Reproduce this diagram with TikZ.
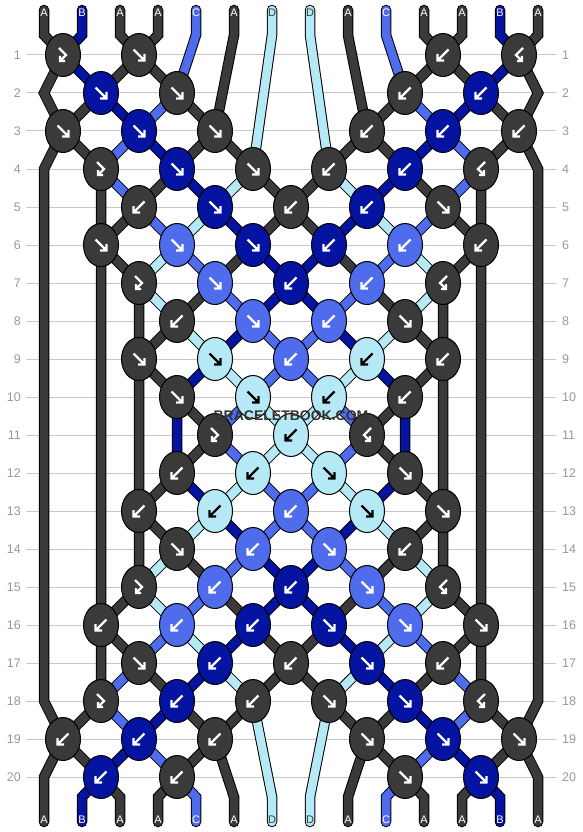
\documentclass[tikz,border=0pt]{standalone}
\usepackage{fontspec}
\setmainfont{Liberation Sans}
\usetikzlibrary{shapes,backgrounds}

\definecolor{kdk}{HTML}{3A3A3A}
\definecolor{knv}{HTML}{0414A0}
\definecolor{kbl}{HTML}{4E6CEB}
\definecolor{klb}{HTML}{B5E9F5}
\colorlet{gdk}{white}
\colorlet{gnv}{white}
\colorlet{gbl}{white}
\colorlet{glb}{black}

\tikzset{
  knot/.style={ellipse, draw=black, line width=1pt, minimum width=35pt, minimum height=43pt, inner sep=0pt},
  glyph/.style={line width=2.4pt, line cap=butt, line join=miter},
  strand/.style={draw=black, line width=1pt, double distance=8.5pt, line cap=round},
  gridline/.style={draw=black!22, line width=1pt},
  rowno/.style={text=black!40, inner sep=0pt, font=\fontsize{12.5}{14}\selectfont},
  tag/.style={inner sep=0pt, font=\fontsize{11}{12}\selectfont},
  wmark/.style={font=\bfseries\fontsize{14}{16}\selectfont, inner sep=0pt}
}

% arrow glyphs inside the knots
\newcommand\arrf{(-5.5,-5.5) -- (5.5,5.5) (5.5,-1) -- (5.5,5.5) -- (-1,5.5)}
\newcommand\arrb{(5.5,-5.5) -- (-5.5,5.5) (-5.5,-1) -- (-5.5,5.5) -- (1,5.5)}
\newcommand\arrfb{(-4,-7) -- (3,0) -- (-3,6) (-3,1) -- (-3,6) -- (2,6)}
\newcommand\arrbf{(4,-7) -- (-3,0) -- (3,6) (3,1) -- (3,6) -- (-2,6)}
% one strand through its knots
\newcommand\strand[3]{\draw[strand, double=#1] (#2) foreach \pp in {#3} {-- (\pp.center)};}

\begin{document}
\begin{tikzpicture}[x=1pt, y=-1pt]
\useasboundingbox (0,0) rectangle (582,832);

% ends of the strands
\foreach \i in {0,...,13} {
  \coordinate (top\i) at ({44+38*\i},10);
  \coordinate (tb\i) at ({44+38*\i},35);
  \coordinate (bb\i) at ({44+38*\i},797);
  \coordinate (bot\i) at ({44+38*\i},822);
}
\foreach \r in {2,4,18,20} {
  \coordinate (el\r) at (44,{17+38*\r});
  \coordinate (er\r) at (538,{17+38*\r});
}

% knots: row/column/colour/type
\foreach \r/\j/\c/\t in {1/1/dk/fb, 1/3/dk/f, 1/11/dk/b, 1/13/dk/bf,
  2/2/nv/f, 2/4/dk/f, 2/10/dk/b, 2/12/nv/b,
  3/1/dk/f, 3/3/nv/f, 3/5/dk/f, 3/9/dk/b, 3/11/nv/b, 3/13/dk/b,
  4/2/dk/fb, 4/4/nv/f, 4/6/dk/f, 4/8/dk/b, 4/10/nv/b, 4/12/dk/bf,
  5/3/dk/b, 5/5/nv/f, 5/7/dk/b, 5/9/nv/b, 5/11/dk/f,
  6/2/dk/f, 6/4/bl/f, 6/6/nv/f, 6/8/nv/b, 6/10/bl/b, 6/12/dk/b,
  7/3/dk/fb, 7/5/bl/f, 7/7/nv/b, 7/9/bl/b, 7/11/dk/bf,
  8/4/dk/b, 8/6/bl/f, 8/8/bl/b, 8/10/dk/f,
  9/3/dk/f, 9/5/lb/f, 9/7/bl/b, 9/9/lb/b, 9/11/dk/b,
  10/4/dk/f, 10/6/lb/f, 10/8/lb/b, 10/10/dk/b,
  11/5/dk/fb, 11/7/lb/b, 11/9/dk/bf,
  12/4/dk/b, 12/6/lb/b, 12/8/lb/f, 12/10/dk/f,
  13/3/dk/b, 13/5/lb/b, 13/7/bl/b, 13/9/lb/f, 13/11/dk/f,
  14/4/dk/f, 14/6/bl/b, 14/8/bl/f, 14/10/dk/b,
  15/3/dk/fb, 15/5/bl/b, 15/7/nv/b, 15/9/bl/f, 15/11/dk/bf,
  16/2/dk/b, 16/4/bl/b, 16/6/nv/b, 16/8/nv/f, 16/10/bl/f, 16/12/dk/f,
  17/3/dk/f, 17/5/nv/b, 17/7/dk/b, 17/9/nv/f, 17/11/dk/b,
  18/2/dk/fb, 18/4/nv/b, 18/6/dk/b, 18/8/dk/f, 18/10/nv/f, 18/12/dk/bf,
  19/1/dk/b, 19/3/nv/b, 19/5/dk/b, 19/9/dk/f, 19/11/nv/f, 19/13/dk/f,
  20/2/nv/b, 20/4/dk/b, 20/10/dk/f, 20/12/nv/f} {
  \node[knot, fill=k\c] (k\r-\j) at ({25+38*\j},{17+38*\r}) {};
  \draw[glyph, draw=g\c, shift={(k\r-\j)}] \csname arr\t\endcsname;
}

% row numbers
\foreach \r in {1,...,20} {
  \node[rowno, anchor=east] (ln\r) at (21,{17+38*\r}) {\r};
  \node[rowno, anchor=west] (rn\r) at (562,{17+38*\r}) {\r};
}

% strand letters
\foreach \i/\s/\tc in {0/A/white, 1/B/white, 2/A/white, 3/A/white, 4/C/white, 5/A/white, 6/D/kdk,
  7/D/kdk, 8/A/white, 9/C/white, 10/A/white, 11/A/white, 12/B/white, 13/A/white} {
  \node[tag, text=\tc] (ta\i) at ({44+38*\i},13) {\s};
  \node[tag, text=\tc] (ba\i) at ({44+38*\i},820) {\s};
}

% watermark
\node[wmark, text=black!80] (wm) at (291,416) {BRACELETBOOK.COM};

\begin{scope}[on background layer]
  \fill[white] (0,0) rectangle (582,832);
  \foreach \r in {1,...,20}
    \draw[gridline] ([xshift=5pt]ln\r.east) -- ([xshift=-6pt]rn\r.west);
  \strand{kdk}{top0}{tb0,k1-1,el2,k3-1,k4-2,k6-2,k7-3,k9-3,k10-4,k11-5,k12-4,k13-3,k15-3,k16-2,k18-2,k19-1,el20,bb0,bot0}
  \strand{knv}{top1}{tb1,k1-1,k2-2,k3-3,k4-4,k5-5,k6-6,k7-7,k8-8,k9-9,k10-10,k12-10,k13-9,k14-8,k15-7,k16-6,k17-5,k18-4,k19-3,k20-2,bb1,bot1}
  \strand{kdk}{top2}{tb2,k1-3,k2-4,k3-5,k4-6,k5-7,k6-8,k7-9,k8-10,k9-11,k13-11,k14-10,k15-9,k16-8,k17-7,k18-6,k19-5,k20-4,bb3,bot3}
  \strand{kdk}{top3}{tb3,k1-3,k2-2,k3-1,el4,el18,k19-1,k20-2,bb2,bot2}
  \strand{kbl}{top4}{tb4,k2-4,k3-3,k4-2,k5-3,k6-4,k7-5,k8-6,k9-7,k10-8,k11-9,k12-8,k13-7,k14-6,k15-5,k16-4,k17-3,k18-2,k19-3,k20-4,bb4,bot4}
  \strand{kdk}{top5}{tb5,k3-5,k4-4,k5-3,k6-2,k16-2,k17-3,k18-4,k19-5,bb5,bot5}
  \strand{klb}{top6}{tb6,k4-6,k5-5,k6-4,k7-3,k8-4,k9-5,k10-6,k11-7,k12-8,k13-9,k14-10,k15-11,k16-10,k17-9,k18-8,bb7,bot7}
  \strand{klb}{top7}{tb7,k4-8,k5-9,k6-10,k7-11,k8-10,k9-9,k10-8,k11-7,k12-6,k13-5,k14-4,k15-3,k16-4,k17-5,k18-6,bb6,bot6}
  \strand{kdk}{top8}{tb8,k3-9,k4-10,k5-11,k6-12,k16-12,k17-11,k18-10,k19-9,bb8,bot8}
  \strand{kbl}{top9}{tb9,k2-10,k3-11,k4-12,k5-11,k6-10,k7-9,k8-8,k9-7,k10-6,k11-5,k12-6,k13-7,k14-8,k15-9,k16-10,k17-11,k18-12,k19-11,k20-10,bb9,bot9}
  \strand{kdk}{top10}{tb10,k1-11,k2-12,k3-13,er4,er18,k19-13,k20-12,bb11,bot11}
  \strand{kdk}{top11}{tb11,k1-11,k2-10,k3-9,k4-8,k5-7,k6-6,k7-5,k8-4,k9-3,k13-3,k14-4,k15-5,k16-6,k17-7,k18-8,k19-9,k20-10,bb10,bot10}
  \strand{knv}{top12}{tb12,k1-13,k2-12,k3-11,k4-10,k5-9,k6-8,k7-7,k8-6,k9-5,k10-4,k12-4,k13-5,k14-6,k15-7,k16-8,k17-9,k18-10,k19-11,k20-12,bb12,bot12}
  \strand{kdk}{top13}{tb13,k1-13,er2,k3-13,k4-12,k6-12,k7-11,k9-11,k10-10,k11-9,k12-10,k13-11,k15-11,k16-12,k18-12,k19-13,er20,bb13,bot13}
\end{scope}
\end{tikzpicture}
\end{document}
